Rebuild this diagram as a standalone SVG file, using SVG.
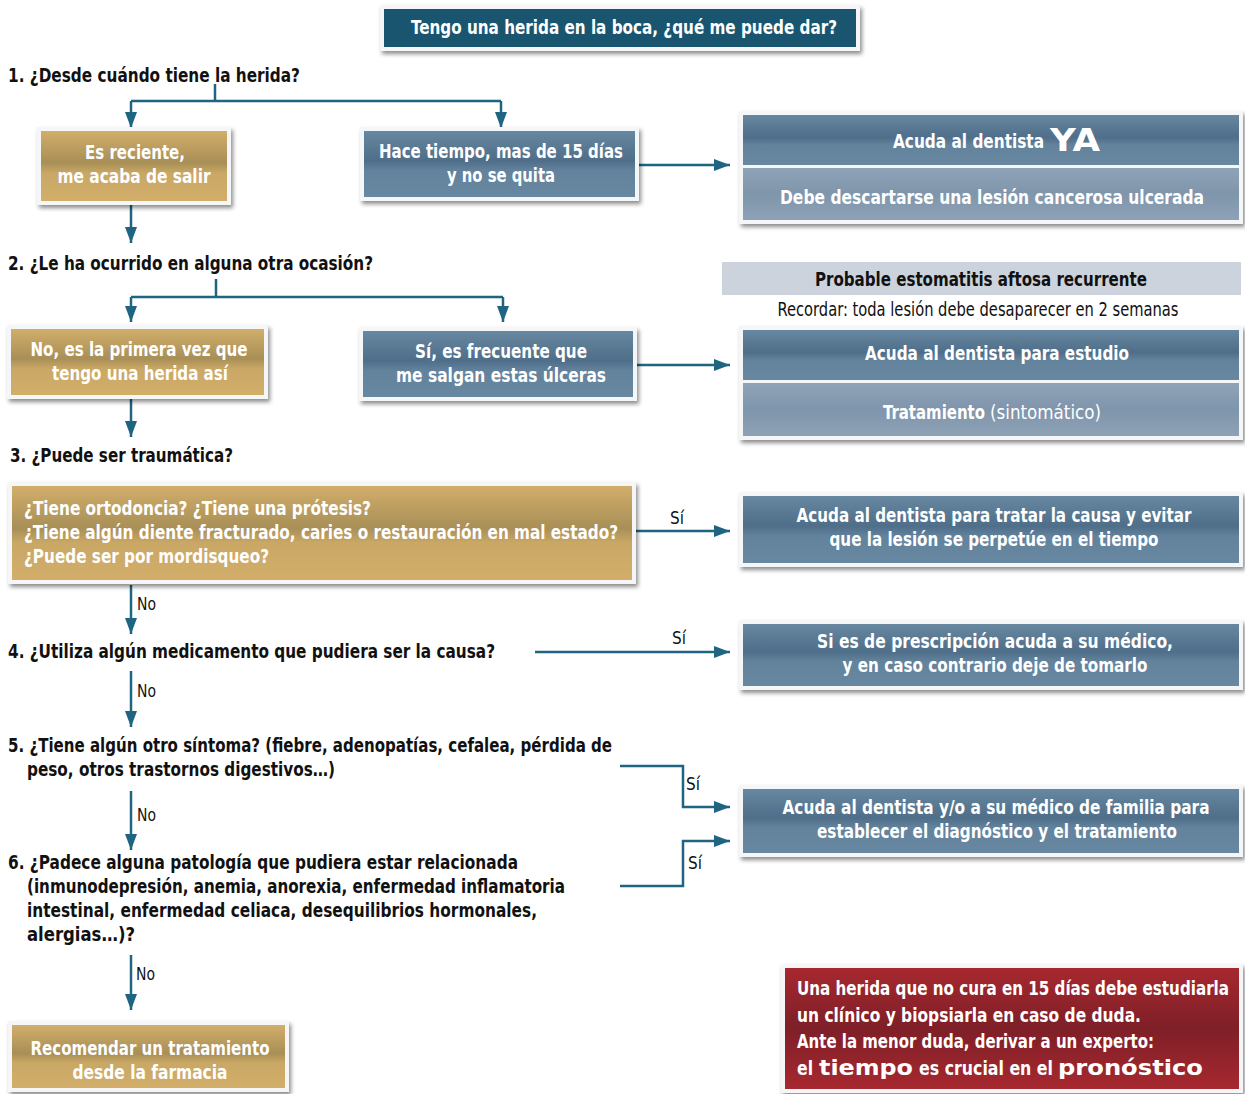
<svg xmlns="http://www.w3.org/2000/svg" width="1245" height="1094" viewBox="0 0 1245 1094">
<defs>
<style>
text{font-family:"Liberation Sans Narrow","DejaVu Sans Condensed","Liberation Sans",sans-serif;}
.q{font-size:20px;font-weight:bold;fill:#111;}
.bt{font-size:20px;font-weight:bold;fill:#fff;text-anchor:middle;}
.bl{font-size:20px;font-weight:bold;fill:#fff;}
.nw{font-size:20px;font-weight:normal;fill:#fff;}
.lb{font-size:18px;fill:#111;}
.c{fill:none;stroke:#1f6480;stroke-width:2.5;}
.frame{fill:#f4f6f8;filter:url(#sh);}
.wide{font-family:"DejaVu Sans","Liberation Sans",sans-serif;font-weight:bold;fill:#fff;}
</style>
<linearGradient id="gold" x1="0" y1="0" x2="0" y2="1">
<stop offset="0" stop-color="#d2ae6a"/><stop offset="0.45" stop-color="#a88f57"/><stop offset="0.6" stop-color="#c9a765"/><stop offset="1" stop-color="#d2ae6a"/>
</linearGradient>
<linearGradient id="blue" x1="0" y1="0" x2="0" y2="1">
<stop offset="0" stop-color="#6887a0"/><stop offset="0.45" stop-color="#4e6e89"/><stop offset="0.6" stop-color="#63829c"/><stop offset="1" stop-color="#6887a0"/>
</linearGradient>
<linearGradient id="lblue" x1="0" y1="0" x2="0" y2="1">
<stop offset="0" stop-color="#8fa3b8"/><stop offset="0.5" stop-color="#7f95ab"/><stop offset="1" stop-color="#8ea2b6"/>
</linearGradient>
<linearGradient id="red" x1="0" y1="0" x2="0" y2="1">
<stop offset="0" stop-color="#a7282f"/><stop offset="0.5" stop-color="#7e1f27"/><stop offset="1" stop-color="#a7282f"/>
</linearGradient>
<filter id="sh" x="-10%" y="-20%" width="120%" height="150%">
<feDropShadow dx="2" dy="3" stdDeviation="2" flood-color="#000" flood-opacity="0.45"/>
</filter>
<marker id="arw" viewBox="0 0 16 12" refX="16" refY="6" markerWidth="16" markerHeight="12" markerUnits="userSpaceOnUse" orient="auto">
<path d="M0,0 L16,6 L0,12 z" fill="#1f6480"/>
</marker>
</defs>
<rect width="1245" height="1094" fill="#fff"/>

<g id="connectors">
<path class="c" d="M215,84 V101"/>
<path class="c" d="M131,101 H501"/>
<path class="c" d="M131,101 V128" marker-end="url(#arw)"/>
<path class="c" d="M501,101 V128" marker-end="url(#arw)"/>
<path class="c" d="M636,165 H730" marker-end="url(#arw)"/>
<path class="c" d="M131,203 V243" marker-end="url(#arw)"/>
<path class="c" d="M216,279 V297"/>
<path class="c" d="M131,297 H503"/>
<path class="c" d="M131,297 V322" marker-end="url(#arw)"/>
<path class="c" d="M503,297 V322" marker-end="url(#arw)"/>
<path class="c" d="M634,365 H730" marker-end="url(#arw)"/>
<path class="c" d="M131,397 V437" marker-end="url(#arw)"/>
<path class="c" d="M634,531 H730" marker-end="url(#arw)"/>
<path class="c" d="M131,585 V634" marker-end="url(#arw)"/>
<path class="c" d="M535,652 H730" marker-end="url(#arw)"/>
<path class="c" d="M131,671 V727" marker-end="url(#arw)"/>
<path class="c" d="M620,766 H683 V807 H730" marker-end="url(#arw)"/>
<path class="c" d="M620,886 H683 V841 H730" marker-end="url(#arw)"/>
<path class="c" d="M131,791 V850" marker-end="url(#arw)"/>
<path class="c" d="M131,955 V1010" marker-end="url(#arw)"/>
<text class="lb" x="670" y="524" textLength="14" lengthAdjust="spacingAndGlyphs">Sí</text>
<text class="lb" x="672" y="644" textLength="14" lengthAdjust="spacingAndGlyphs">Sí</text>
<text class="lb" x="686" y="790" textLength="14" lengthAdjust="spacingAndGlyphs">Sí</text>
<text class="lb" x="688" y="869" textLength="14" lengthAdjust="spacingAndGlyphs">Sí</text>
<text class="lb" x="137" y="610" textLength="19" lengthAdjust="spacingAndGlyphs">No</text>
<text class="lb" x="137" y="697" textLength="19" lengthAdjust="spacingAndGlyphs">No</text>
<text class="lb" x="137" y="821" textLength="19" lengthAdjust="spacingAndGlyphs">No</text>
<text class="lb" x="136" y="980" textLength="19" lengthAdjust="spacingAndGlyphs">No</text>
</g>

<g id="title">
<rect class="frame" x="380" y="5" width="480" height="46"/>
<rect x="384" y="9" width="472" height="38" fill="#1a5570"/>
<text class="bt" x="624" y="34" font-size="21" textLength="426" lengthAdjust="spacingAndGlyphs">Tengo una herida en la boca, ¿qué me puede dar?</text>
</g>

<g id="q1"><text class="q" x="8" y="82" textLength="292" lengthAdjust="spacingAndGlyphs">1. ¿Desde cuándo tiene la herida?</text></g>

<g id="n-reciente">
<rect class="frame" x="37" y="127" width="194" height="78"/>
<rect x="41" y="131" width="186" height="70" fill="url(#gold)"/>
<text class="bt" x="135" y="159" textLength="100" lengthAdjust="spacingAndGlyphs">Es reciente,</text>
<text class="bt" x="134" y="183" textLength="153" lengthAdjust="spacingAndGlyphs">me acaba de salir</text>
</g>

<g id="n-tiempo">
<rect class="frame" x="360" y="127" width="279" height="74"/>
<rect x="364" y="131" width="271" height="66" fill="url(#blue)"/>
<text class="bt" x="501" y="158" textLength="244" lengthAdjust="spacingAndGlyphs">Hace tiempo, mas de 15 días</text>
<text class="bt" x="501" y="182" textLength="108" lengthAdjust="spacingAndGlyphs">y no se quita</text>
</g>

<g id="n-ya">
<rect class="frame" x="739" y="111" width="504" height="113"/>
<rect x="743" y="115" width="496" height="50" fill="url(#blue)"/>
<rect x="743" y="168" width="496" height="52" fill="url(#lblue)"/>
<text class="bl" x="893" y="148" textLength="151" lengthAdjust="spacingAndGlyphs">Acuda al dentista</text>
<text class="wide" x="1050" y="151" font-size="32" textLength="50" lengthAdjust="spacingAndGlyphs">YA</text>
<text class="bt" x="992" y="204" textLength="424" lengthAdjust="spacingAndGlyphs">Debe descartarse una lesión cancerosa ulcerada</text>
</g>

<g id="q2"><text class="q" x="8" y="270" textLength="365" lengthAdjust="spacingAndGlyphs">2. ¿Le ha ocurrido en alguna otra ocasión?</text></g>

<g id="n-primera">
<rect class="frame" x="7" y="325" width="261" height="74"/>
<rect x="11" y="329" width="253" height="66" fill="url(#gold)"/>
<text class="bt" x="139" y="356" textLength="217" lengthAdjust="spacingAndGlyphs">No, es la primera vez que</text>
<text class="bt" x="140" y="380" textLength="176" lengthAdjust="spacingAndGlyphs">tengo una herida así</text>
</g>

<g id="n-frecuente">
<rect class="frame" x="359" y="327" width="278" height="74"/>
<rect x="363" y="331" width="270" height="66" fill="url(#blue)"/>
<text class="bt" x="501" y="358" textLength="172" lengthAdjust="spacingAndGlyphs">Sí, es frecuente que</text>
<text class="bt" x="501" y="382" textLength="210" lengthAdjust="spacingAndGlyphs">me salgan estas úlceras</text>
</g>

<g id="n-aftosa">
<rect x="722" y="262" width="519" height="33" fill="#cdd3dc"/>
<text x="981" y="286" font-size="20" font-weight="bold" fill="#111" text-anchor="middle" textLength="332" lengthAdjust="spacingAndGlyphs">Probable estomatitis aftosa recurrente</text>
<text x="978" y="316" font-size="20" fill="#111" text-anchor="middle" textLength="401" lengthAdjust="spacingAndGlyphs">Recordar: toda lesión debe desaparecer en 2 semanas</text>
</g>

<g id="n-estudio">
<rect class="frame" x="739" y="326" width="504" height="114"/>
<rect x="743" y="330" width="496" height="50" fill="url(#blue)"/>
<rect x="743" y="383" width="496" height="53" fill="url(#lblue)"/>
<text class="bt" x="997" y="360" textLength="264" lengthAdjust="spacingAndGlyphs">Acuda al dentista para estudio</text>
<text class="bl" x="883" y="419" textLength="102" lengthAdjust="spacingAndGlyphs">Tratamiento</text>
<text class="nw" x="990" y="419" textLength="111" lengthAdjust="spacingAndGlyphs">(sintomático)</text>
</g>

<g id="q3"><text class="q" x="10" y="462" textLength="223" lengthAdjust="spacingAndGlyphs">3. ¿Puede ser traumática?</text></g>

<g id="n-trauma">
<rect class="frame" x="8" y="482" width="628" height="102"/>
<rect x="12" y="486" width="620" height="94" fill="url(#gold)"/>
<text class="bl" x="24" y="515" textLength="347" lengthAdjust="spacingAndGlyphs">¿Tiene ortodoncia? ¿Tiene una prótesis?</text>
<text class="bl" x="24" y="539" textLength="594" lengthAdjust="spacingAndGlyphs">¿Tiene algún diente fracturado, caries o restauración en mal estado?</text>
<text class="bl" x="24" y="563" textLength="245" lengthAdjust="spacingAndGlyphs">¿Puede ser por mordisqueo?</text>
</g>

<g id="n-causa">
<rect class="frame" x="739" y="492" width="504" height="75"/>
<rect x="743" y="496" width="496" height="67" fill="url(#blue)"/>
<text class="bt" x="994" y="522" textLength="395" lengthAdjust="spacingAndGlyphs">Acuda al dentista para tratar la causa y evitar</text>
<text class="bt" x="994" y="546" textLength="329" lengthAdjust="spacingAndGlyphs">que la lesión se perpetúe en el tiempo</text>
</g>

<g id="q4"><text class="q" x="8" y="658" textLength="487" lengthAdjust="spacingAndGlyphs">4. ¿Utiliza algún medicamento que pudiera ser la causa?</text></g>

<g id="n-medico">
<rect class="frame" x="739" y="620" width="504" height="70"/>
<rect x="743" y="624" width="496" height="62" fill="url(#blue)"/>
<text class="bt" x="995" y="648" textLength="356" lengthAdjust="spacingAndGlyphs">Si es de prescripción acuda a su médico,</text>
<text class="bt" x="995" y="672" textLength="305" lengthAdjust="spacingAndGlyphs">y en caso contrario deje de tomarlo</text>
</g>

<g id="q5">
<text class="q" x="8" y="752" textLength="604" lengthAdjust="spacingAndGlyphs">5. ¿Tiene algún otro síntoma? (fiebre, adenopatías, cefalea, pérdida de</text>
<text class="q" x="27" y="776" textLength="308" lengthAdjust="spacingAndGlyphs">peso, otros trastornos digestivos…)</text>
</g>

<g id="n-familia">
<rect class="frame" x="739" y="785" width="504" height="72"/>
<rect x="743" y="789" width="496" height="64" fill="url(#blue)"/>
<text class="bt" x="996" y="814" textLength="427" lengthAdjust="spacingAndGlyphs">Acuda al dentista y/o a su médico de familia para</text>
<text class="bt" x="997" y="838" textLength="360" lengthAdjust="spacingAndGlyphs">establecer el diagnóstico y el tratamiento</text>
</g>

<g id="q6">
<text class="q" x="8" y="869" textLength="510" lengthAdjust="spacingAndGlyphs">6. ¿Padece alguna patología que pudiera estar relacionada</text>
<text class="q" x="27" y="893" textLength="538" lengthAdjust="spacingAndGlyphs">(inmunodepresión, anemia, anorexia, enfermedad inflamatoria</text>
<text class="q" x="27" y="917" textLength="510" lengthAdjust="spacingAndGlyphs">intestinal, enfermedad celiaca, desequilibrios hormonales,</text>
<text class="q" x="27" y="941" textLength="108" lengthAdjust="spacingAndGlyphs">alergias…)?</text>
</g>

<g id="n-farmacia">
<rect class="frame" x="8" y="1021" width="281" height="71"/>
<rect x="12" y="1025" width="273" height="63" fill="url(#gold)"/>
<text class="bt" x="150" y="1055" textLength="239" lengthAdjust="spacingAndGlyphs">Recomendar un tratamiento</text>
<text class="bt" x="150" y="1079" textLength="155" lengthAdjust="spacingAndGlyphs">desde la farmacia</text>
</g>

<g id="n-aviso">
<rect class="frame" x="781" y="964" width="462" height="129"/>
<rect x="785" y="968" width="454" height="121" fill="url(#red)"/>
<text class="bl" x="797" y="995" font-size="21" textLength="432" lengthAdjust="spacingAndGlyphs">Una herida que no cura en 15 días debe estudiarla</text>
<text class="bl" x="797" y="1022" font-size="21" textLength="344" lengthAdjust="spacingAndGlyphs">un clínico y biopsiarla en caso de duda.</text>
<text class="bl" x="797" y="1048" font-size="21" textLength="357" lengthAdjust="spacingAndGlyphs">Ante la menor duda, derivar a un experto:</text>
<text class="bl" x="797" y="1075" font-size="21" textLength="16" lengthAdjust="spacingAndGlyphs">el</text>
<text class="wide" x="819" y="1075" font-size="21" textLength="94" lengthAdjust="spacingAndGlyphs">tiempo</text>
<text class="bl" x="919" y="1075" font-size="21" textLength="134" lengthAdjust="spacingAndGlyphs">es crucial en el</text>
<text class="wide" x="1058" y="1075" font-size="21" textLength="145" lengthAdjust="spacingAndGlyphs">pronóstico</text>
</g>
</svg>
